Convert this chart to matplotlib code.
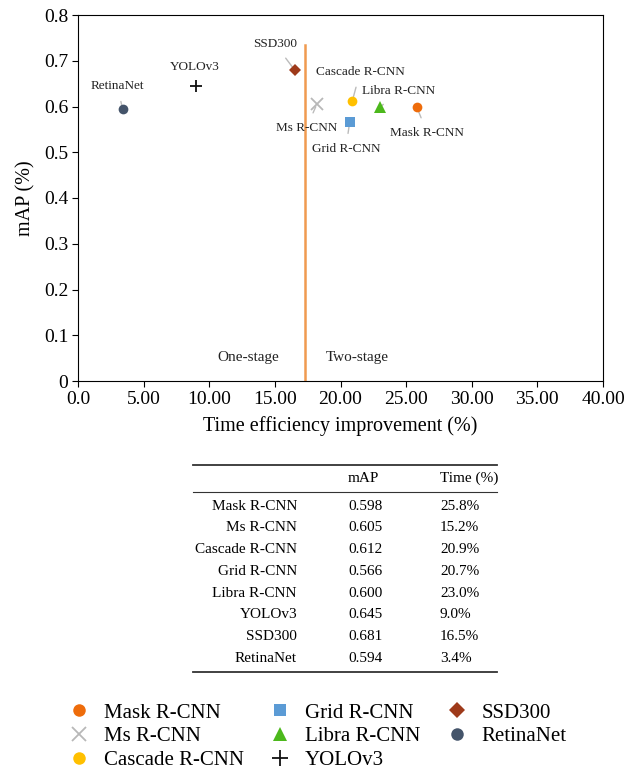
import matplotlib.pyplot as plt
from matplotlib.lines import Line2D

plt.rcParams['font.family'] = ['Liberation Serif', 'DejaVu Serif']

models = ['Mask R-CNN', 'Ms R-CNN', 'Cascade R-CNN', 'Grid R-CNN',
          'Libra R-CNN', 'YOLOv3', 'SSD300', 'RetinaNet']
# positions as drawn in the scatter
plot_time = [25.8, 18.2, 20.9, 20.7, 23.0, 9.0, 16.5, 3.4]
plot_map = [0.600, 0.605, 0.612, 0.566, 0.598, 0.645, 0.680, 0.594]
# values printed in the table
table_map = ['0.598', '0.605', '0.612', '0.566', '0.600', '0.645', '0.681', '0.594']
table_time = ['25.8%', '15.2%', '20.9%', '20.7%', '23.0%', '9.0%', '16.5%', '3.4%']

colors = ['#ee6c0b', '#b8b8b8', '#ffc000', '#5b9bd5', '#4cb81c', '#111111', '#9e3a1a', '#44546a']
markers = ['o', 'x', 'o', 's', '^', '+', 'D', 'o']
sizes = [7, 8, 7, 7, 8, 9, 6, 7]
# label anchor points (data coords)
label_pos = [(26.6, 0.542), (17.4, 0.553), (21.5, 0.676), (20.4, 0.507),
             (24.4, 0.634), (8.9, 0.686), (15.0, 0.737), (3.0, 0.645)]

split_x = 17.3

fig = plt.figure(figsize=(6.28, 7.74), dpi=100)
ax = fig.add_axes([78 / 628, 1 - 381 / 774, 525 / 628, 366 / 774])

for i, m in enumerate(models):
    ax.plot(plot_time[i], plot_map[i], marker=markers[i], color=colors[i],
            ms=sizes[i], mew=1.3 if markers[i] in 'x+' else 0, ls='none', zorder=3)
    lx, ly = label_pos[i]
    ax.annotate(m, xy=(plot_time[i], plot_map[i]), xytext=(lx, ly),
                ha='center', va='center', fontsize=9.5, color='#222222',
                arrowprops=dict(arrowstyle='-', color='#bbbbbb', lw=1,
                                shrinkA=5, shrinkB=2), zorder=2)

ax.plot([split_x, split_x], [0.003, 0.735], color='#f09a50', lw=1.8, zorder=1)
ax.text(12.95, 0.052, 'One-stage', ha='center', va='center', fontsize=11, color='#222222')
ax.text(21.3, 0.052, 'Two-stage', ha='center', va='center', fontsize=11, color='#222222')

ax.set_xlim(0, 40)
ax.set_ylim(0, 0.8)
ax.set_xticks(range(0, 41, 5))
ax.set_xticklabels(['0.0'] + ['%.2f' % v for v in range(5, 41, 5)])
ax.set_yticks([i / 10 for i in range(9)])
ax.set_yticklabels(['0'] + ['%.1f' % (i / 10) for i in range(1, 9)])
ax.tick_params(labelsize=14, direction='out', length=4, pad=3)
ax.set_xlabel('Time efficiency improvement (%)', fontsize=14.5, labelpad=6)
ax.set_ylabel('mAP (%)', fontsize=14.5, labelpad=6)

# table drawn below the chart
def fy(py):
    return 1 - py / 774

def fx(px):
    return px / 628

for py, lw in [(465, 1.3), (492, 0.8), (672, 1.3)]:
    fig.add_artist(Line2D([fx(193), fx(497)], [fy(py), fy(py)], color='#333333', lw=lw))
fig.text(fx(348), fy(478), 'mAP', fontsize=11, va='center', ha='left')
fig.text(fx(440), fy(478), 'Time (%)', fontsize=11, va='center', ha='left')
for i, m in enumerate(models):
    yy = fy(506 + i * 21.8)
    fig.text(fx(297), yy, m, fontsize=11, va='center', ha='right')
    fig.text(fx(348), yy, table_map[i], fontsize=11, va='center', ha='left')
    fig.text(fx(440), yy, table_time[i], fontsize=11, va='center', ha='left')

handles = []
for i, m in enumerate(models):
    handles.append(Line2D([], [], marker=markers[i], color=colors[i], ls='none',
                          ms=sizes[i] + 2, mew=1.3 if markers[i] in 'x+' else 0, label=m))
fig.legend(handles=handles, ncol=3, loc='upper left', bbox_to_anchor=(fx(66), fy(703)),
           frameon=False, fontsize=15, handlelength=1.2, handletextpad=0.6,
           columnspacing=1.15, labelspacing=0.2, borderaxespad=0, borderpad=0)

fig.savefig('out.png', dpi=100)
